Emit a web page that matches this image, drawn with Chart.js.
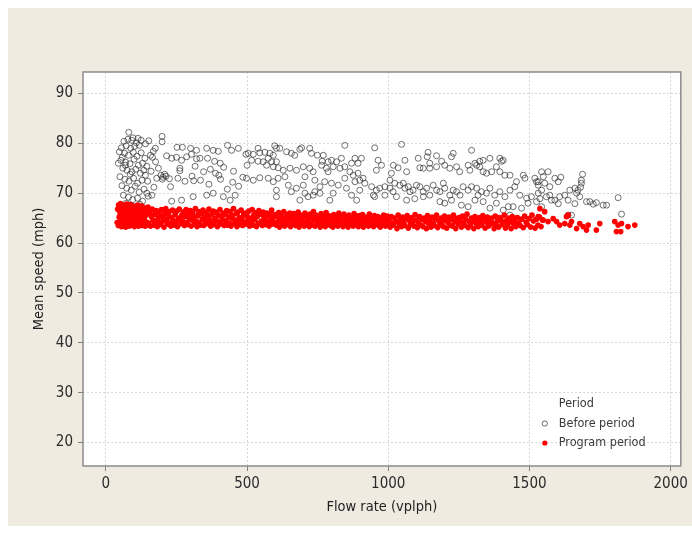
<!DOCTYPE html>
<html>
<head>
<meta charset="utf-8">
<script src="https://cdn.jsdelivr.net/npm/chart.js@4.4.1/dist/chart.umd.min.js"></script>
<style>
  html, body { margin: 0; padding: 0; background: #ffffff; }
  #wrap { width: 692px; height: 533px; }
</style>
</head>
<body>
<div id="wrap"><canvas id="chart" width="692" height="533"></canvas></div>
<script>
const xTicks = [0, 500, 1000, 1500, 2000];
const yTicks = [20, 30, 40, 50, 60, 70, 80, 90];
const seriesNames = ["Before period", "Program period"];
const legendTitle = "Period";

// [flow rate, mean speed]
const beforePts = [
  [81,82.2],[64,80.4],[92,80.6],[108,80.1],[72,79.5],[55,79.1],[88,79.0],[118,79.6],[140,79.9],[152,80.5],
  [48,78.3],[66,78.0],[80,77.6],[97,78.2],[110,77.4],[125,78.1],[138,77.0],[158,77.6],[53,76.6],[70,76.2],
  [85,75.9],[100,76.8],[115,75.6],[130,76.0],[145,75.4],[60,75.0],[75,74.6],[92,74.3],[106,74.8],[122,74.0],
  [140,73.6],[160,74.4],[50,73.3],[67,72.8],[82,72.4],[98,73.0],[112,72.0],[128,72.6],[57,71.5],[74,71.0],
  [90,70.6],[104,71.4],[118,70.2],[135,70.8],[62,69.6],[80,69.2],[95,68.7],[112,69.0],[130,68.4],[150,69.4],
  [72,68.0],[88,67.6],[100,67.3],[120,67.8],[170,71.2],[165,77.2],[175,79.0],[78,80.8],[96,81.1],[58,77.2],
  [44,76.0],[134,74.6],[148,72.4],[86,73.8],[69,75.6],[125,80.6],[102,79.4],[114,81.0],
  [199,81.4],[199,80.3],[252,79.2],[271,79.2],[300,79.0],[321,78.6],[357,79.0],[380,78.6],[398,78.4],[431,79.6],
  [445,78.6],[469,79.0],[496,77.8],[215,77.5],[233,77.0],[250,77.2],[268,76.6],[286,77.3],[303,77.8],[321,76.9],
  [333,77.0],[360,77.0],[385,76.4],[405,76.0],[262,75.0],[262,74.5],[316,75.4],[370,74.8],[417,75.2],[452,74.4],
  [500,75.6],[195,73.6],[202,73.2],[208,73.8],[200,72.8],[213,73.4],[225,72.9],[255,73.0],[280,72.4],[305,73.4],
  [311,72.5],[335,72.6],[406,72.8],[400,73.6],[449,72.2],[229,71.3],[233,68.4],[268,68.6],[309,69.3],[357,69.6],
  [380,70.0],[416,69.3],[440,68.6],[458,69.6],[163,69.6],[145,70.0],[176,76.3],[168,78.4],[186,75.0],[180,73.0],
  [346,74.3],[388,74.0],[470,71.4],[430,70.8],[485,73.2],[365,71.8],
  [539,79.0],[598,79.5],[604,79.0],[616,79.0],[504,78.0],[522,77.8],[545,78.1],[563,78.2],[581,78.0],[593,77.6],
  [640,78.3],[657,78.0],[669,77.6],[693,79.1],[722,79.0],[728,78.0],[749,77.6],[687,78.8],[846,79.6],[952,79.1],
  [770,77.6],[799,76.6],[817,76.3],[834,77.0],[787,76.3],[766,76.4],[882,77.0],[905,77.0],[870,76.0],[893,76.0],
  [964,76.6],[976,75.6],[958,74.6],[1011,74.0],[516,76.6],[539,76.4],[557,76.3],[575,77.0],[587,76.3],[604,76.3],
  [569,75.6],[593,75.3],[610,75.1],[628,74.6],[652,75.0],[675,74.6],[699,75.3],[722,75.0],[734,74.3],[705,73.3],
  [764,75.6],[781,75.0],[805,75.3],[829,75.0],[787,74.3],[846,75.3],[864,74.3],[876,73.6],[893,74.0],[911,73.0],
  [899,72.6],[917,72.0],[882,72.3],[941,71.3],[958,70.6],[970,71.0],[988,71.3],[1006,71.0],[1017,70.3],[498,73.0],
  [522,72.6],[545,73.1],[575,73.0],[593,72.3],[610,73.0],[634,73.3],[646,71.6],[675,71.0],[699,71.6],[740,72.6],
  [758,71.3],[775,72.3],[799,72.0],[823,71.6],[846,73.0],[604,70.6],[604,69.3],[657,70.3],[705,70.0],[734,69.6],
  [740,70.3],[758,70.0],[805,70.0],[852,71.0],[870,69.6],[888,68.6],[899,70.6],[947,69.6],[952,69.3],[988,69.6],
  [687,68.6],[716,69.3],[793,68.6],
  [1047,79.8],[1059,76.6],[1106,77.0],[1141,78.2],[1138,77.3],[1171,77.5],[1189,76.4],[1224,77.3],[1230,78.0],[1295,78.6],
  [1324,76.4],[1336,76.6],[1360,77.0],[1395,77.0],[1401,76.4],[1407,76.6],[1018,75.6],[1035,75.1],[1065,74.3],[1112,75.1],
  [1124,75.0],[1147,76.0],[1147,75.0],[1171,75.3],[1200,75.6],[1218,75.0],[1242,75.3],[1253,74.3],[1283,75.6],[1289,74.6],
  [1307,76.0],[1313,75.6],[1324,75.3],[1336,74.3],[1348,74.0],[1366,74.3],[1383,75.3],[1395,74.3],[1413,73.6],[1431,73.6],
  [1454,72.3],[1478,73.6],[1484,73.0],[1519,73.0],[1531,72.3],[1006,72.6],[1023,72.0],[1041,71.6],[1053,72.0],[1059,71.0],
  [1071,71.3],[1077,70.3],[1088,70.6],[1100,71.6],[1112,71.3],[1124,70.3],[1136,71.0],[1147,69.6],[1159,71.6],[1171,70.6],
  [1183,70.3],[1195,72.0],[1200,71.0],[1218,69.6],[1230,70.6],[1242,70.3],[1254,69.6],[1265,71.3],[1283,70.6],[1295,71.3],
  [1313,71.0],[1318,69.6],[1330,70.3],[1348,70.0],[1360,71.0],[1377,69.6],[1395,70.3],[1413,69.3],[1431,70.6],[1448,71.3],
  [1466,69.6],[1490,69.0],[1507,69.3],[1525,68.3],[1029,69.3],[1065,68.6],[1094,68.9],[1124,69.3],[1183,68.3],[1200,68.0],
  [1224,68.6],[1259,67.6],[1283,67.3],[1307,68.6],[1336,68.3],[1360,67.0],[1383,68.0],[1407,66.6],[1425,67.3],[1431,65.6],
  [1442,67.3],[1472,67.0],[1495,68.0],
  [1543,74.3],[1566,74.3],[1549,73.3],[1525,72.3],[1590,73.0],[1611,73.2],[1602,72.3],[1531,71.6],[1554,72.0],[1572,71.3],
  [1543,70.6],[1531,70.0],[1560,69.3],[1572,69.6],[1590,68.6],[1607,69.3],[1625,69.6],[1643,70.6],[1661,71.0],[1672,70.6],
  [1667,70.0],[1681,71.2],[1684,72.0],[1684,72.6],[1688,73.8],[1543,67.3],[1578,68.6],[1637,68.6],[1661,67.9],[1678,69.3],
  [1702,68.3],[1714,68.3],[1737,68.1],[1726,67.8],[1761,67.6],[1773,67.6],[1814,69.1],[1826,65.8],[1637,65.6],[1649,65.6],
  [1602,67.9],[1537,68.9]
];

const programPts = [
  [40,64.1],[42,66.8],[44,63.5],[45,67.6],[47,65.2],[49,63.9],[50,66.1],[52,67.9],[53,64.6],[55,63.3],
  [56,65.7],[58,67.1],[59,64.0],[61,66.4],[62,63.6],[64,65.0],[65,67.5],[67,64.4],[68,66.0],[70,63.2],
  [71,65.5],[73,67.8],[74,64.8],[76,66.6],[77,63.8],[79,65.9],[80,67.2],[82,64.2],[83,63.4],[85,66.3],
  [86,65.1],[88,67.7],[89,64.7],[91,63.6],[92,66.9],[94,65.4],[95,63.9],[97,67.3],[98,64.5],[100,66.0],
  [101,63.3],[103,65.6],[104,67.0],[106,64.1],[107,66.5],[109,63.7],[110,65.2],[112,67.6],[113,64.9],[115,63.4],
  [116,66.2],[118,65.0],[119,67.1],[121,63.9],[122,64.6],[124,66.7],[125,65.3],[127,63.5],[128,67.4],[130,64.3],
  [131,65.8],[133,63.8],[134,66.4],[136,64.9],[137,67.0],[139,63.4],[140,65.5],[142,66.8],[144,64.2],[145,63.6],
  [147,65.9],[149,67.2],
  [152,64.0],[155,66.1],[158,63.4],[161,65.3],[164,66.8],[167,64.6],[170,63.6],[173,65.8],[176,64.3],[179,66.5],
  [182,63.3],[185,65.0],[188,66.0],[191,64.1],[194,63.7],[197,66.7],[200,65.4],[203,64.4],[206,63.2],[209,65.9],
  [212,66.9],[215,64.8],[218,63.8],[221,65.5],[224,66.3],[227,64.0],[230,63.4],[233,65.1],[236,66.6],[239,64.5],
  [242,63.6],[245,65.7],[248,64.2],[251,66.4],[254,63.3],[257,65.0],[260,66.8],[263,64.7],[266,63.9],[269,65.6],
  [272,64.3],[275,66.2],[278,63.5],[281,65.3],[284,66.7],[287,64.1],[290,63.7],[293,65.8],[296,64.9],[299,66.5],
  [302,63.4],[305,64.6],[308,66.0],[311,65.2],[314,63.8],[317,66.9],[320,64.4],[323,63.3],[326,65.5],[329,66.3],
  [332,64.0],[335,63.6],[338,65.9],[341,64.8],[344,66.6],[347,63.5],[350,65.1],[353,64.3],[356,66.1],[359,63.9],
  [362,65.4],[365,66.8],[368,64.6],[371,63.4],[374,65.7],[377,64.1],[380,66.4],[383,63.7],[386,65.0],[389,66.2],
  [392,64.5],[395,63.3],[398,65.6],[401,64.2],[404,66.7],[407,63.8],[410,65.3],[413,64.7],[416,66.0],[419,63.5],
  [422,65.8],[425,64.4],[428,66.5],[431,63.6],[434,65.2],[437,64.0],[440,66.3],[443,63.4],[446,65.5],[449,64.9],
  [452,66.9],[455,63.9],[458,64.6],[461,65.9],[464,63.3],[467,66.2],[470,64.3],[473,65.1],[476,63.7],[479,66.6],
  [482,64.8],[485,63.5],[488,65.7],[491,64.1],[494,66.0],[497,63.8],[500,65.4],[503,64.5],[506,66.4],[509,63.4],
  [512,65.0],[515,64.2],[518,66.7],[521,63.6],[524,65.6],[527,64.7],[530,66.1],[533,63.3],[536,65.3],[539,64.0],
  [542,66.5],[545,63.9],[548,65.8],[551,64.4],[554,63.5],[557,66.2],[560,65.1],[563,64.6],[566,63.7],[569,66.0],
  [572,65.5],[575,64.3],[578,63.4],[581,65.9],[584,64.8],[587,66.6],[590,63.8],[593,65.2],[596,64.1],[599,65.7],
  [603,63.6],[606,65.4],[609,64.3],[612,66.1],[615,63.2],[618,64.9],[621,65.8],[624,63.9],[627,64.6],[630,66.3],
  [633,63.4],[636,65.1],[639,64.0],[642,65.7],[645,63.7],[648,64.8],[651,66.0],[654,63.3],[657,65.3],[660,64.4],
  [663,63.8],[666,65.9],[669,64.7],[672,63.5],[675,65.5],[678,64.1],[681,66.2],[684,63.2],[687,64.9],[690,65.6],
  [693,63.9],[696,64.5],[699,65.2],[702,63.4],[705,66.0],[708,64.2],[711,63.7],[714,65.4],[717,64.8],[720,63.3],
  [723,65.8],[726,64.0],[729,63.6],[732,65.1],[735,66.3],[738,64.6],[741,63.4],[744,65.6],[747,64.3],[750,63.8],
  [753,65.0],[756,64.7],[759,63.2],[762,65.9],[765,64.1],[768,63.6],[771,65.3],[774,64.5],[777,63.3],[780,66.1],
  [783,64.9],[786,63.9],[789,65.5],[792,64.2],[795,63.5],[798,65.0],[801,64.6],[804,63.2],[807,65.7],[810,64.0],
  [813,63.7],[816,65.2],[819,64.4],[822,63.4],[825,66.0],[828,64.8],[831,63.8],[834,65.4],[837,64.1],[840,63.3],
  [843,65.8],[846,64.5],[849,63.6],[852,65.1],[855,64.3],[858,63.2],[861,65.6],[864,64.7],[867,63.9],[870,65.0],
  [873,64.0],[876,63.4],[879,65.9],[882,64.6],[885,63.7],[888,65.3],[891,64.2],[894,63.3],[897,65.5],[900,64.8],
  [903,63.6],[906,64.4],[909,65.7],[912,63.2],[915,64.9],[918,64.1],[921,63.8],[924,65.2],[927,64.5],[930,63.4],
  [933,65.8],[936,64.0],[939,63.7],[942,65.0],[945,64.3],[948,63.3],[951,65.5],[954,64.7],[957,63.9],[960,64.2],
  [963,65.3],[966,63.5],[969,64.6],[972,63.2],[975,65.1],[978,64.4],[981,63.8],[984,65.6],[987,64.0],[990,63.4],
  [993,64.8],[996,65.4],[999,63.6],
  [1003,64.5],[1007,63.2],[1011,65.3],[1015,64.0],[1019,63.6],[1023,65.0],[1027,64.3],[1031,62.9],[1035,65.6],[1039,63.8],
  [1043,64.7],[1047,63.3],[1051,65.2],[1055,64.1],[1059,63.5],[1063,64.9],[1067,65.5],[1071,63.0],[1075,64.4],[1079,63.7],
  [1083,65.1],[1087,64.2],[1091,63.4],[1095,65.7],[1099,64.6],[1103,63.1],[1107,64.0],[1111,65.3],[1115,63.6],[1119,64.8],
  [1123,63.3],[1127,65.0],[1131,64.3],[1135,62.9],[1139,65.5],[1143,63.9],[1147,64.6],[1151,63.2],[1155,65.2],[1159,64.0],
  [1163,63.5],[1167,64.9],[1171,65.6],[1175,63.1],[1179,64.4],[1183,63.7],[1187,65.0],[1191,64.2],[1195,63.3],[1199,65.4],
  [1203,64.7],[1207,63.0],[1211,64.1],[1215,65.2],[1219,63.6],[1223,64.8],[1227,63.4],[1231,65.6],[1235,64.3],[1239,62.9],
  [1243,64.9],[1247,63.8],[1251,65.1],[1255,64.5],[1259,63.2],[1263,65.4],[1267,64.0],[1271,63.5],[1275,64.7],[1279,65.8],
  [1283,63.1],[1287,64.3],[1291,63.7],[1295,65.0],[1299,64.4],[1303,62.9],[1307,65.3],[1311,63.9],[1315,64.6],[1319,63.3],
  [1323,65.1],[1327,64.1],[1331,63.6],[1335,65.5],[1339,64.8],[1343,63.0],[1347,64.2],[1351,65.2],[1355,63.4],[1359,64.6],
  [1363,63.8],[1367,65.0],[1371,64.0],[1375,62.9],[1379,65.4],[1383,63.5],[1387,64.4],[1391,63.2],[1395,65.1],[1399,64.7],
  [1403,63.7],[1407,64.1],[1411,65.6],[1415,63.0],[1419,64.5],[1423,63.6],[1427,65.0],[1431,64.3],[1435,62.9],[1439,65.3],
  [1443,63.9],[1447,64.7],[1452,63.3],[1457,65.1],[1462,64.0],[1467,63.5],[1472,64.8],[1478,63.1],[1483,65.4],[1488,64.2],
  [1493,63.7],[1498,64.9],[1504,63.2],[1509,65.6],[1514,64.4],[1520,63.0],[1525,64.8],[1530,63.6],[1536,65.2],[1541,63.3],
  [1546,64.6],
  [1537,66.9],[1554,66.3],[1531,65.3],[1549,64.6],[1566,64.3],[1584,64.9],[1596,64.3],[1607,63.6],[1625,63.9],[1631,65.3],
  [1637,65.6],[1643,63.6],[1649,64.3],[1667,62.9],[1678,63.9],[1690,63.3],[1702,62.6],[1708,63.6],[1737,62.6],[1749,63.9],
  [1802,64.3],[1814,63.6],[1826,63.9],[1808,62.3],[1823,62.3],[1849,63.3],[1873,63.6]
];

const FONT = "'DejaVu Sans Condensed', 'DejaVu Sans', sans-serif";

const backdrop = {
  id: 'backdrop',
  beforeDraw(chart) {
    const { ctx, chartArea: a } = chart;
    ctx.save();
    ctx.fillStyle = '#ffffff';
    ctx.fillRect(0, 0, chart.width, chart.height);
    ctx.fillStyle = '#efebe1';
    ctx.fillRect(8, 8, chart.width - 8, chart.height - 15);
    ctx.fillStyle = '#ffffff';
    ctx.fillRect(a.left, a.top, a.right - a.left, a.bottom - a.top);
    ctx.restore();
  },
  afterDraw(chart) {
    const { ctx, chartArea: a } = chart;
    ctx.save();
    ctx.strokeStyle = '#8c8c8c';
    ctx.lineWidth = 1.5;
    ctx.strokeRect(a.left, a.top, a.right - a.left, a.bottom - a.top);
    ctx.restore();
  }
};

// legend in the lower right corner of the plot
const periodLegend = {
  id: 'periodLegend',
  afterDraw(chart) {
    const { ctx, chartArea: a } = chart;
    const mx = a.right - 136, tx = a.right - 122;
    let y = a.bottom - 62;
    ctx.save();
    ctx.font = '12.5px ' + FONT;
    ctx.fillStyle = '#3a3a3a';
    ctx.textBaseline = 'middle';
    ctx.fillText(legendTitle, tx, y);
    chart.data.datasets.forEach((ds) => {
      y += 19.5;
      ctx.beginPath();
      ctx.arc(mx, y, 2.6, 0, Math.PI * 2);
      if (ds.label === seriesNames[1]) {
        ctx.fillStyle = ds.backgroundColor;
        ctx.fill();
      } else {
        ctx.strokeStyle = '#666';
        ctx.lineWidth = 1;
        ctx.stroke();
      }
      ctx.fillStyle = '#3a3a3a';
      ctx.fillText(ds.label, tx, y);
    });
    ctx.restore();
  }
};

const ctx = document.getElementById('chart').getContext('2d');
new Chart(ctx, {
  type: 'scatter',
  data: {
    datasets: [
      {
        label: seriesNames[0],
        data: beforePts.map(p => ({ x: p[0], y: p[1] })),
        backgroundColor: 'rgba(0,0,0,0)',
        borderColor: 'rgba(40,40,40,0.65)',
        borderWidth: 1,
        pointRadius: 3,
        order: 1
      },
      {
        label: seriesNames[1],
        data: programPts.map(p => ({ x: p[0], y: p[1] })),
        backgroundColor: '#ff0000',
        borderColor: '#ff0000',
        borderWidth: 0,
        pointRadius: 2.8,
        order: 0
      }
    ]
  },
  options: {
    responsive: false,
    animation: false,
    devicePixelRatio: 1,
    layout: { padding: { top: 72, right: 11, left: 0, bottom: 0 } },
    plugins: {
      legend: { display: false },
      tooltip: { enabled: false }
    },
    scales: {
      x: {
        type: 'linear',
        min: -81,
        max: 2036,
        afterFit: (s) => { s.height = 67; },
        afterBuildTicks: (s) => { s.ticks = xTicks.map(v => ({ value: v })); },
        ticks: {
          font: { family: FONT, size: 15 },
          color: '#2b2b2b',
          padding: 4,
          callback: (v) => String(v)
        },
        grid: {
          color: '#d6d6d6',
          tickColor: '#808080',
          tickLength: 5,
          tickBorderDash: []
        },
        border: { display: false, dash: [2, 2] },
        title: {
          display: true,
          text: 'Flow rate (vplph)',
          font: { family: FONT, size: 14.5 },
          color: '#222',
          padding: { top: 0, bottom: 17 }
        }
      },
      y: {
        type: 'linear',
        min: 15.3,
        max: 94.3,
        afterFit: (s) => { s.width = 83; },
        afterBuildTicks: (s) => { s.ticks = yTicks.map(v => ({ value: v })); },
        ticks: {
          font: { family: FONT, size: 15 },
          color: '#2b2b2b',
          padding: 5,
          callback: (v) => String(v)
        },
        grid: {
          color: '#d6d6d6',
          tickColor: '#808080',
          tickLength: 5,
          tickBorderDash: []
        },
        border: { display: false, dash: [2, 2] },
        title: {
          display: true,
          text: 'Mean speed (mph)',
          font: { family: FONT, size: 14.5 },
          color: '#222',
          padding: { top: 31, bottom: 0 }
        }
      }
    }
  },
  plugins: [backdrop, periodLegend]
});
</script>
</body>
</html>
